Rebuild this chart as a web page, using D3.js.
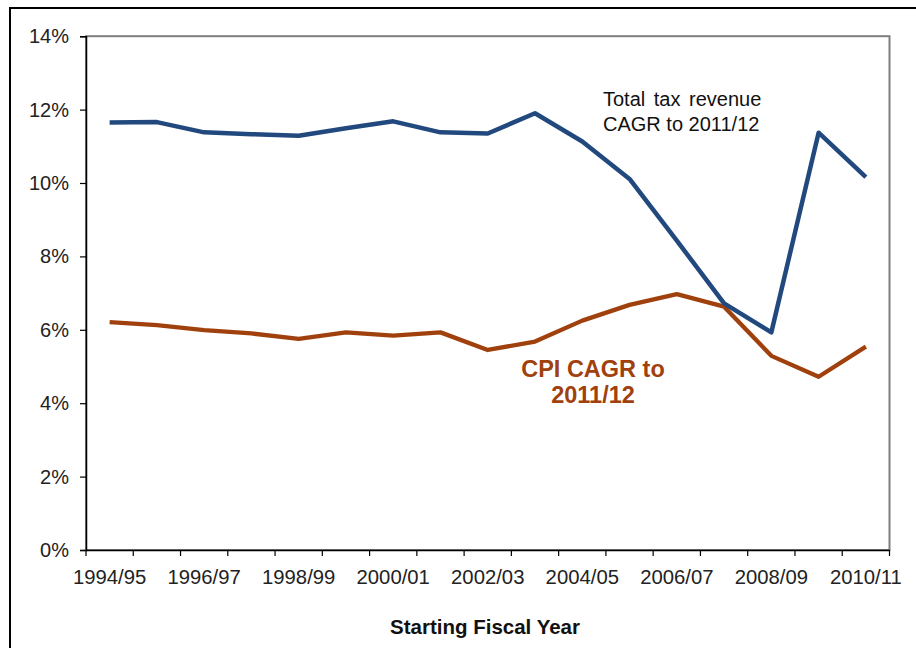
<!DOCTYPE html>
<html>
<head>
<meta charset="utf-8">
<script src="https://cdn.jsdelivr.net/npm/d3@7"></script>
<style>
  html, body { margin: 0; padding: 0; background: #fff; }
  svg { display: block; font-family: "Liberation Sans", Arial, sans-serif; }
</style>
</head>
<body>
<svg id="chart" width="916" height="648"></svg>
<script>
const years = ["1994/95","1995/96","1996/97","1997/98","1998/99","1999/00","2000/01","2001/02",
  "2002/03","2003/04","2004/05","2005/06","2006/07","2007/08","2008/09","2009/10","2010/11"];
const taxRevenueCAGR = [11.65, 11.66, 11.38, 11.33, 11.29, 11.49, 11.68, 11.38, 11.35, 11.90,
  11.13, 10.11, 8.43, 6.72, 5.93, 11.37, 10.16];
const cpiCAGR = [6.21, 6.13, 5.99, 5.90, 5.75, 5.93, 5.84, 5.93, 5.45, 5.68,
  6.25, 6.68, 6.97, 6.63, 5.29, 4.72, 5.54];
const yTicks = [0, 2, 4, 6, 8, 10, 12, 14];
const xLabels = ["1994/95","1996/97","1998/99","2000/01","2002/03","2004/05","2006/07","2008/09","2010/11"];

(function () {
const svg = d3.select("#chart");
const pL = 86, pR = 889.5, pT = 36.2, pB = 550;

// outer frame
svg.append("rect").attr("x", 10).attr("y", 8).attr("width", 930).attr("height", 680)
  .attr("fill", "none").attr("stroke", "#000").attr("stroke-width", 2);

const x = d3.scaleBand().domain(years).range([pL, pR]).padding(0);
const y = d3.scaleLinear().domain([0, 14]).range([pB, pT]);

// plot border (top/right gray)
svg.append("rect").attr("x", pL).attr("y", pT).attr("width", pR - pL).attr("height", pB - pT)
  .attr("fill", "none").attr("stroke", "#7f7f7f").attr("stroke-width", 2);

// y axis
const yAxis = svg.append("g").attr("transform", `translate(${pL},0)`)
  .call(d3.axisLeft(y).tickValues(yTicks).tickFormat(d => d + "%").tickSize(6).tickPadding(11));
yAxis.select(".domain").attr("stroke", "#000").attr("stroke-width", 1.5);
yAxis.selectAll(".tick line").attr("stroke", "#000").attr("stroke-width", 1.2);
yAxis.selectAll("text").attr("font-size", 20).attr("fill", "#222")
  .attr("font-family", "'Liberation Sans', Arial, sans-serif");

// x axis: labels centered in bands, ticks at band boundaries
const xAxis = svg.append("g").attr("transform", `translate(0,${pB})`)
  .call(d3.axisBottom(x).tickValues(xLabels).tickSize(0).tickPadding(20));
xAxis.select(".domain").attr("stroke", "#000").attr("stroke-width", 1.5);
xAxis.selectAll("text").attr("font-size", 20.3).attr("fill", "#222")
  .attr("font-family", "'Liberation Sans', Arial, sans-serif");
const bounds = years.map(d => x(d)).concat([x(years[years.length - 1]) + x.bandwidth()]);
xAxis.selectAll(".bt").data(bounds).join("line").attr("class", "bt")
  .attr("x1", d => d).attr("x2", d => d).attr("y1", 0).attr("y2", 6)
  .attr("stroke", "#000").attr("stroke-width", 1.2);

// lines
const line = d3.line().x((d, i) => x(years[i]) + x.bandwidth() / 2).y(d => y(d));
svg.append("path").datum(cpiCAGR).attr("d", line).attr("fill", "none")
  .attr("stroke", "#A0410D").attr("stroke-width", 4.3).attr("stroke-linejoin", "round");
svg.append("path").datum(taxRevenueCAGR).attr("d", line).attr("fill", "none")
  .attr("stroke", "#22497E").attr("stroke-width", 4.5).attr("stroke-linejoin", "round");

// annotations
const ann1 = svg.append("text").attr("x", 603).attr("font-size", 20).attr("fill", "#111");
ann1.append("tspan").attr("x", 603).attr("y", 106).attr("word-spacing", 3).text("Total tax revenue");
ann1.append("tspan").attr("x", 603).attr("y", 131).text("CAGR to 2011/12");

const ann2 = svg.append("text").attr("text-anchor", "middle").attr("font-size", 23.5)
  .attr("font-weight", "bold").attr("fill", "#A0410D");
ann2.append("tspan").attr("x", 593).attr("y", 377).text("CPI CAGR to");
ann2.append("tspan").attr("x", 593).attr("y", 403).text("2011/12");

// axis title
svg.append("text").attr("x", 485).attr("y", 634).attr("text-anchor", "middle")
  .attr("font-size", 20.5).attr("font-weight", "bold").attr("fill", "#111").text("Starting Fiscal Year");
})();
</script>
</body>
</html>
